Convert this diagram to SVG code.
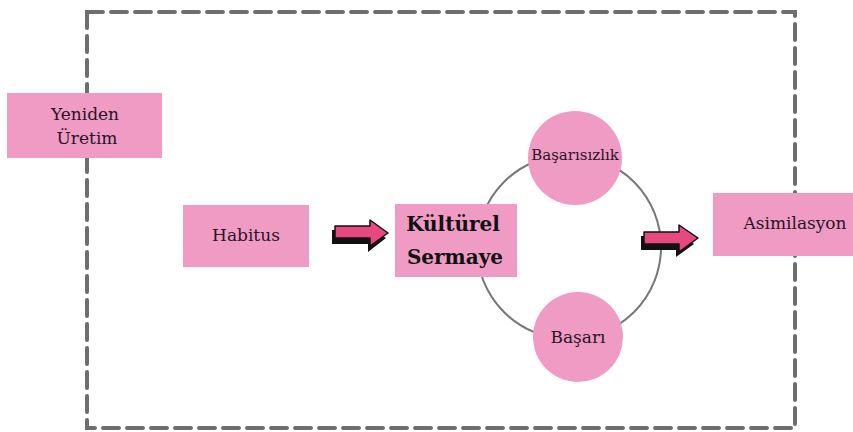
<svg xmlns="http://www.w3.org/2000/svg" width="853" height="432" viewBox="0 0 853 432">
<defs>
<style>
.box{fill:#ef9bc4}
.lbl{font-family:"DejaVu Serif","Liberation Serif",serif;font-size:17px;fill:#2a1426;text-anchor:middle}
.bold{font-family:"DejaVu Serif","Liberation Serif",serif;font-size:20px;font-weight:900;fill:#111;text-anchor:middle}
.frame{fill:none;stroke:#6e6e6e;stroke-width:4;stroke-dasharray:16 8;stroke-linecap:round}
.ring{fill:none;stroke:#777;stroke-width:2}
.arr{fill:#e8487f;stroke:#111;stroke-width:1.5;stroke-linejoin:round}
.shadow{fill:#111}
</style>
</defs>
<rect class="frame" x="87" y="12" width="708" height="416"/>
<g id="connectors">
<circle class="ring" cx="569" cy="247" r="92"/>
<g id="arrow1">
<polygon class="shadow" points="332,230 368,230 368,226 386,238 368,252 368,244 332,244"/>
<polygon class="arr" points="335,226 370,226 370,220 388,233 370,246 370,238 335,238"/>
</g>
<g id="arrow2">
<polygon class="shadow" points="641,236 676,236 676,231 694,244 676,257 676,250 641,250"/>
<polygon class="arr" points="644,232 679,232 679,225 698,238 679,252 679,244 644,244"/>
</g>
</g>
<g id="yeniden">
<rect class="box" x="7" y="93" width="155" height="65"/>
<text class="lbl" x="85" y="120">Yeniden</text>
<text class="lbl" x="87" y="144">Üretim</text>
</g>
<g id="habitus">
<rect class="box" x="183" y="205" width="126" height="62"/>
<text class="lbl" x="246" y="241">Habitus</text>
</g>
<g id="kulturel">
<rect class="box" x="395" y="204" width="122" height="73"/>
<text class="bold" x="453" y="231">Kültürel</text>
<text class="bold" x="455" y="264">Sermaye</text>
</g>
<g id="basarisizlik">
<circle class="box" cx="575" cy="158" r="47"/>
<text class="lbl" x="575" y="160" style="font-size:15px">Başarısızlık</text>
</g>
<g id="basari">
<circle class="box" cx="578" cy="337" r="45"/>
<text class="lbl" x="578" y="343">Başarı</text>
</g>
<g id="asimilasyon">
<rect class="box" x="713" y="193" width="140" height="63"/>
<text class="lbl" x="795" y="229">Asimilasyon</text>
</g>
</svg>
